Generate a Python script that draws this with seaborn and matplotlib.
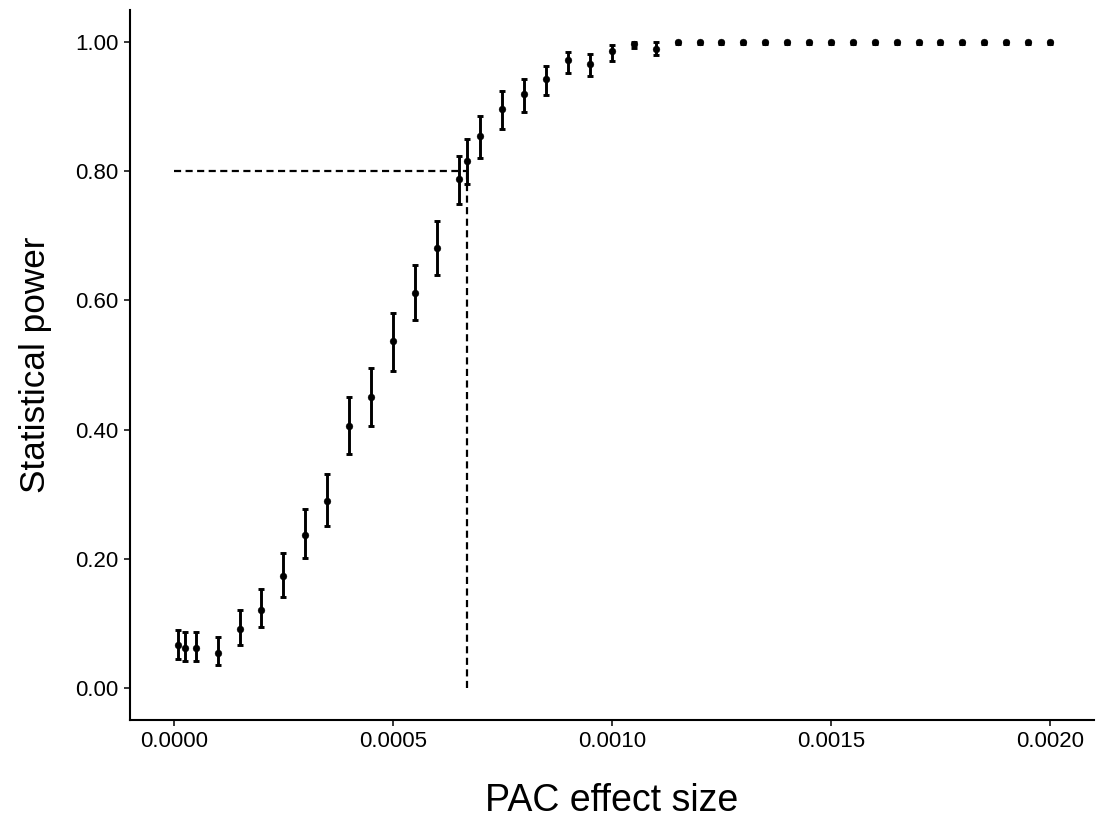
import numpy as np
import pandas as pd
import matplotlib
matplotlib.use("Agg")
import matplotlib.pyplot as plt
from matplotlib.ticker import FuncFormatter
import seaborn as sns

# ---- data ----
effect_size = [0.00001, 0.000025, 0.00005, 0.0001, 0.00015, 0.0002, 0.00025, 0.0003,
               0.00035, 0.0004, 0.00045, 0.0005, 0.00055, 0.0006, 0.00065, 0.00067,
               0.0007, 0.00075, 0.0008, 0.00085, 0.0009, 0.00095, 0.0010, 0.00105,
               0.0011, 0.00115, 0.0012, 0.00125, 0.0013, 0.00135, 0.0014, 0.00145,
               0.0015, 0.00155, 0.0016, 0.00165, 0.0017, 0.00175, 0.0018, 0.00185,
               0.0019, 0.00195, 0.0020]
power = [0.066, 0.062, 0.062, 0.054, 0.091, 0.120, 0.173, 0.236,
         0.289, 0.405, 0.450, 0.537, 0.612, 0.682, 0.788, 0.816,
         0.855, 0.897, 0.920, 0.943, 0.973, 0.967, 0.986, 0.997,
         0.989, 1.0, 1.0, 1.0, 1.0, 1.0, 1.0, 1.0,
         1.0, 1.0, 1.0, 1.0, 1.0, 1.0, 1.0, 1.0,
         1.0, 1.0, 1.0]
power_lo = [0.045, 0.042, 0.042, 0.035, 0.066, 0.094, 0.141, 0.201,
            0.250, 0.362, 0.405, 0.491, 0.569, 0.640, 0.750, 0.780,
            0.820, 0.866, 0.892, 0.918, 0.952, 0.948, 0.971, 0.991,
            0.980, 0.997, 0.997, 0.997, 0.997, 0.997, 0.997, 0.997,
            0.997, 0.997, 0.997, 0.997, 0.997, 0.997, 0.997, 0.997,
            0.997, 0.997, 0.997]
power_hi = [0.090, 0.087, 0.087, 0.078, 0.120, 0.153, 0.209, 0.277,
            0.331, 0.450, 0.495, 0.581, 0.655, 0.723, 0.824, 0.850,
            0.885, 0.924, 0.943, 0.963, 0.985, 0.982, 0.995, 1.0,
            1.0, 1.0, 1.0, 1.0, 1.0, 1.0, 1.0, 1.0,
            1.0, 1.0, 1.0, 1.0, 1.0, 1.0, 1.0, 1.0,
            1.0, 1.0, 1.0]
target_power = 0.8
target_effect = 0.00067

x_ticks = [0.0, 0.0005, 0.0010, 0.0015, 0.0020]
y_ticks = [0.0, 0.2, 0.4, 0.6, 0.8, 1.0]

df = pd.DataFrame({"effect": effect_size, "power": power,
                   "lo": power_lo, "hi": power_hi})

sns.set_theme(style="ticks")
plt.rcParams["font.family"] = ["Liberation Sans", "DejaVu Sans"]

fig = plt.figure(figsize=(10.96, 8.19), dpi=100)
ax = fig.add_axes([0.1186, 0.1209, 0.8794, 0.8669])

# reference lines
ax.plot([0, target_effect], [target_power, target_power], color="black",
        lw=1.6, linestyle=(0, (3.2, 2.0)), zorder=1)
ax.plot([target_effect, target_effect], [0, target_power], color="black",
        lw=1.6, linestyle=(0, (3.2, 2.0)), zorder=1)

# error bars
ax.errorbar(df["effect"], df["power"],
            yerr=[df["power"] - df["lo"], df["hi"] - df["power"]],
            fmt="none", ecolor="black", elinewidth=2.1, capsize=2.4,
            capthick=2.1, zorder=2)
sns.scatterplot(data=df, x="effect", y="power", ax=ax, color="black",
                s=24, edgecolor="black", linewidth=0.3, zorder=3, legend=False)

ax.set_xlim(-0.0001, 0.0021)
ax.set_ylim(-0.05, 1.05)
ax.set_xticks(x_ticks)
ax.set_yticks(y_ticks)
ax.xaxis.set_major_formatter(FuncFormatter(lambda v, p: f"{v:.4f}"))
ax.yaxis.set_major_formatter(FuncFormatter(lambda v, p: f"{v:.2f}"))

ax.set_xlabel("PAC effect size", fontsize=27, labelpad=22, color="black")
ax.set_ylabel("Statistical power", fontsize=25.3, labelpad=17, color="black")
ax.tick_params(axis="both", labelsize=16, length=4, width=1.1,
               colors="black", pad=4)

sns.despine(ax=ax)
for side in ["left", "bottom"]:
    ax.spines[side].set_linewidth(1.5)
    ax.spines[side].set_color("black")
ax.grid(False)

fig.savefig("out.png", dpi=100)
